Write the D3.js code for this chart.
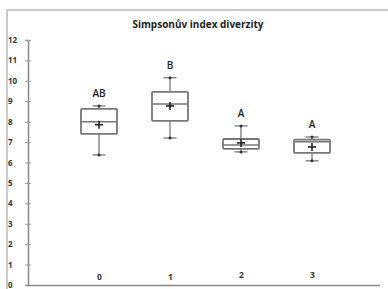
<!DOCTYPE html>
<html><head><meta charset="utf-8">
<script src="https://cdn.jsdelivr.net/npm/d3@7"></script>
<style>body{margin:0;background:#fff}svg{display:block}</style>
</head><body>
<script>
const categories = ["0","1","2","3"];
const whiskerLow = [6.37, 7.2, 6.52, 6.08];
const q1 = [7.4, 8.04, 6.67, 6.47];
const median = [8.0, 8.87, 6.86, 7.02];
const q3 = [8.63, 9.46, 7.15, 7.12];
const whiskerHigh = [8.77, 10.15, 7.79, 7.25];
const mean = [7.85, 8.77, 6.96, 6.76];
const letters = ["AB","B","A","A"];
const yTicks = [0,1,2,3,4,5,6,7,8,9,10,11,12];

const W=388,H=289;
const svg=d3.select("body").append("svg").attr("width",W).attr("height",H);
const font="'Open Sans', 'DejaVu Sans', sans-serif";
// frame
svg.append("path").attr("d","M7,289 V10 H388").attr("fill","none").attr("stroke","#bbb").attr("stroke-width",1.5);

const y=d3.scaleLinear().domain([0,12]).range([285,40]);
const x=d3.scalePoint().domain(categories).range([99,312]);

// title
svg.append("text").attr("x",198).attr("y",28).attr("text-anchor","middle")
  .attr("font-family",font).attr("font-weight","bold").attr("font-size",10).attr("fill","#222")
  .text("Simpsonův index diverzity");

// y axis
const ya=svg.append("g").attr("transform","translate(28,0)")
  .call(d3.axisLeft(y).tickValues(yTicks).tickSize(3).tickPadding(6).tickFormat(d3.format("d")));
ya.select(".domain").attr("stroke","#888").attr("stroke-width",1.5);
ya.selectAll(".tick line").attr("stroke","#999").attr("x1",3);
ya.selectAll(".tick text").attr("font-family",font).attr("font-size",8).attr("font-weight","bold").attr("fill","#333").attr("text-anchor","start").attr("x",-20);

// x axis
const xa=svg.append("g").attr("transform","translate(0,285)")
  .call(d3.axisBottom(x).tickSize(0).tickPadding(0));
xa.select(".domain").remove();
svg.append("line").attr("x1",28).attr("x2",380).attr("y1",285.5).attr("y2",285.5).attr("stroke","#888").attr("stroke-width",1.5);
xa.selectAll(".tick text").attr("font-family",font).attr("font-size",8.5).attr("font-weight","bold").attr("fill","#333")
  .attr("dy",null).attr("y",(d,i)=>i<2?-5:-7);

const bw=36, cap=13;
const g=svg.append("g").attr("stroke","#777").attr("fill","none");
categories.forEach((c,i)=>{
  const cx=x(c);
  g.append("line").attr("x1",cx).attr("x2",cx).attr("y1",y(whiskerHigh[i])).attr("y2",y(q3[i])).attr("stroke-width",1.3);
  g.append("line").attr("x1",cx).attr("x2",cx).attr("y1",y(q1[i])).attr("y2",y(whiskerLow[i])).attr("stroke-width",1.3);
  [whiskerHigh[i],whiskerLow[i]].forEach(v=>{
    g.append("line").attr("x1",cx-cap/2).attr("x2",cx+cap/2).attr("y1",y(v)).attr("y2",y(v)).attr("stroke-width",1.3);
    g.append("circle").attr("cx",cx).attr("cy",y(v)).attr("r",1.5).attr("fill","#333").attr("stroke","none");
  });
  g.append("rect").attr("x",cx-bw/2).attr("y",y(q3[i])).attr("width",bw).attr("height",y(q1[i])-y(q3[i])).attr("stroke-width",1.8).attr("rx",1).attr("fill","#fff");
  g.append("line").attr("x1",cx-bw/2).attr("x2",cx+bw/2).attr("y1",y(median[i])).attr("y2",y(median[i])).attr("stroke-width",1.5);
  const my=y(mean[i]);
  g.append("line").attr("x1",cx-4).attr("x2",cx+4).attr("y1",my).attr("y2",my).attr("stroke","#222").attr("stroke-width",1.6);
  g.append("line").attr("x1",cx).attr("x2",cx).attr("y1",my-4).attr("y2",my+4).attr("stroke","#222").attr("stroke-width",1.6);
  svg.append("text").attr("x",cx).attr("y",y(whiskerHigh[i])-9).attr("text-anchor","middle")
    .attr("font-family",font).attr("font-size",10).attr("font-weight",600).attr("fill","#222").text(letters[i]);
});
</script>
</body></html>
